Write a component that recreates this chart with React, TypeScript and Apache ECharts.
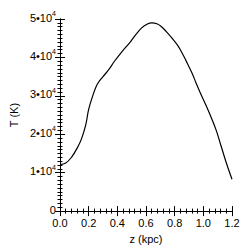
import React, { useEffect, useRef } from "react";
import * as echarts from "echarts";

const zValues = [0.0, 0.04, 0.08, 0.12, 0.15, 0.18, 0.2, 0.23, 0.26, 0.3, 0.34, 0.38, 0.43, 0.49, 0.53, 0.57, 0.61, 0.64, 0.68, 0.71, 0.74, 0.78, 0.82, 0.85, 0.88, 0.92, 0.95, 0.98, 1.02, 1.05, 1.09, 1.12, 1.16, 1.2];
const tValues = [12100, 12500, 14000, 16400, 18800, 22500, 26500, 30200, 33000, 35000, 36800, 39000, 41400, 44000, 46000, 47700, 48700, 49000, 48700, 47900, 46800, 45100, 43200, 41300, 39100, 36000, 33300, 30700, 27400, 24800, 21000, 17400, 12600, 8300];
const xTickLabels = ["0.0", "0.2", "0.4", "0.6", "0.8", "1.0", "1.2"];
const yTickMantissas = ["0", "1", "2", "3", "4", "5"];

const FONT = "'Liberation Sans', Arial, Helvetica, sans-serif";

export default function App() {
  const ref = useRef<HTMLDivElement>(null);
  useEffect(() => {
    if (!ref.current) return;
    const chart = echarts.init(ref.current, null, { renderer: "svg" });
    const tickCommon = {
      axisLine: { show: true, lineStyle: { color: "#000", width: 1 } },
      splitLine: { show: false },
    };
    const xBase = {
      type: "value" as const,
      min: 0,
      max: 1.2,
      interval: 0.2,
      ...tickCommon,
      axisTick: { show: true, inside: true, length: 5, lineStyle: { color: "#000" } },
      minorTick: { show: true, splitNumber: 5, length: 2.5, lineStyle: { color: "#000" } },
    };
    const yBase = {
      type: "value" as const,
      min: 0,
      max: 50000,
      interval: 10000,
      ...tickCommon,
      axisTick: { show: true, inside: true, length: 5, lineStyle: { color: "#000" } },
      minorTick: { show: true, splitNumber: 10, length: 2.5, lineStyle: { color: "#000" } },
    };
    chart.setOption({
      animation: false,
      backgroundColor: "#fff",
      grid: { left: 55, top: 19, right: 17, bottom: 36, containLabel: false },
      xAxis: [
        {
          ...xBase,
          position: "bottom",
          name: "z (kpc)",
          nameLocation: "middle",
          nameGap: 20,
          nameTextStyle: { color: "#000", fontFamily: FONT, fontSize: 11 },
          axisLabel: {
            color: "#000",
            fontFamily: FONT,
            fontSize: 11,
            margin: 6,
            formatter: (v: number) => xTickLabels[Math.round(v / 0.2)] ?? "",
          },
        },
        { ...xBase, position: "top", axisLabel: { show: false } },
      ],
      yAxis: [
        {
          ...yBase,
          position: "left",
          name: "T (K)",
          nameLocation: "middle",
          nameGap: 36,
          nameTextStyle: { color: "#000", fontFamily: FONT, fontSize: 11 },
          axisLabel: {
            color: "#000",
            fontFamily: FONT,
            fontSize: 11,
            margin: 4,
            padding: [0, 0, 5, 0],
            formatter: (v: number) => {
              const m = yTickMantissas[Math.round(v / 10000)];
              if (m === "0") return "{a|0}";
              return "{a|" + m + "•10}{b|4}";
            },
            rich: {
              a: { fontFamily: FONT, fontSize: 11, color: "#000", lineHeight: 13, verticalAlign: "bottom" },
              b: { fontFamily: FONT, fontSize: 7, color: "#000", lineHeight: 13, verticalAlign: "top" },
            },
          },
        },
        { ...yBase, position: "right", axisLabel: { show: false } },
      ],
      series: [
        {
          type: "line",
          data: zValues.map((z, i) => [z, tValues[i]]),
          smooth: 0.4,
          showSymbol: false,
          symbol: "none",
          lineStyle: { color: "#000", width: 1.2 },
        },
      ],
    });
    return () => chart.dispose();
  }, []);
  return (
    <div
      ref={ref}
      style={{ position: "fixed", left: 0, top: 0, width: 249, height: 249, background: "#fff" }}
    />
  );
}
